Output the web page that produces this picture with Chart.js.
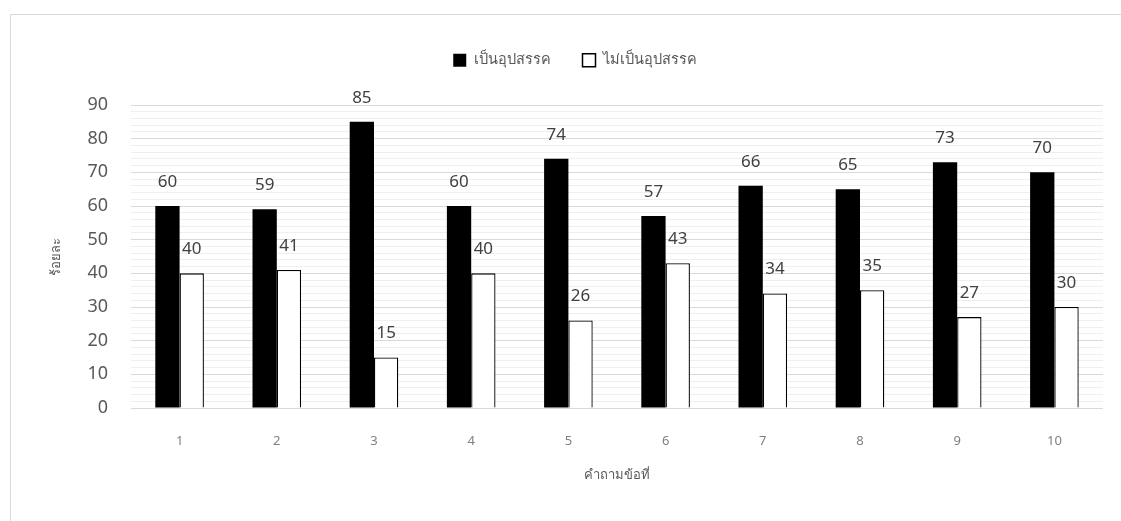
<!DOCTYPE html>
<html lang="th">
<head>
<meta charset="utf-8">
<title>ร้อยละของคำถามแต่ละข้อ</title>
<script src="https://cdn.jsdelivr.net/npm/chart.js@4/dist/chart.umd.min.js"></script>
<style>
  html, body { margin: 0; padding: 0; background: #ffffff; }
  #wrap { position: relative; width: 1121px; height: 521px; overflow: hidden; }
  #frame { position: absolute; left: 10px; top: 14px; width: 1200px; height: 600px;
           border-left: 1px solid #d9d9d9; border-top: 1px solid #d9d9d9; box-sizing: border-box; }
  #c { position: absolute; left: 0; top: 0; }
</style>
</head>
<body>
<div id="wrap">
  <div id="frame"></div>
  <canvas id="c" width="1121" height="521"></canvas>
</div>
<script>
// Question numbers along the x axis
const questions = ['1', '2', '3', '4', '5', '6', '7', '8', '9', '10'];
// Percentage answering "is an obstacle"
const obstacle = [60, 59, 85, 60, 74, 57, 66, 65, 73, 70];
// Percentage answering "is not an obstacle"
const notObstacle = [40, 41, 15, 40, 26, 43, 34, 35, 27, 30];
// Series names
const seriesNames = ['เป็นอุปสรรค', 'ไม่เป็นอุปสรรค'];
// Axis titles
const xTitle = 'คำถามข้อที่';
const yTitle = 'ร้อยละ';

const FONT = "'Noto Sans', 'Open Sans', sans-serif";

// Writes each bar's value above it
const valueLabels = {
  id: 'valueLabels',
  afterDatasetsDraw(chart) {
    const ctx = chart.ctx;
    ctx.save();
    ctx.font = '17px ' + FONT;
    ctx.fillStyle = '#404040';
    ctx.textAlign = 'center';
    ctx.textBaseline = 'middle';
    chart.data.datasets.forEach((ds, di) => {
      chart.getDatasetMeta(di).data.forEach((bar, i) => {
        ctx.fillText(String(ds.data[i]), bar.x, bar.y - 24);
      });
    });
    ctx.restore();
  }
};

// Gives the legend band a fixed height so the plot starts where wanted
const legendBand = {
  id: 'legendBand',
  beforeLayout(chart) {
    const lg = chart.legend;
    if (lg && !lg.__banded) {
      const fit = lg.fit;
      lg.fit = function () { fit.call(this); this.height = 84; };
      lg.__banded = true;
    }
  }
};

new Chart(document.getElementById('c'), {
  type: 'bar',
  data: {
    labels: questions,
    datasets: [
      {
        label: seriesNames[0],
        data: obstacle,
        backgroundColor: '#000000',
        borderColor: '#000000',
        borderWidth: 0,
        categoryPercentage: 0.5,
        barPercentage: 1.0
      },
      {
        label: seriesNames[1],
        data: notObstacle,
        backgroundColor: '#ffffff',
        borderColor: '#000000',
        borderWidth: 1.3,
        categoryPercentage: 0.5,
        barPercentage: 1.0
      }
    ]
  },
  options: {
    responsive: false,
    animation: false,
    devicePixelRatio: 1,
    layout: { padding: { left: 47, right: 18, top: 21, bottom: 38 } },
    plugins: {
      tooltip: { enabled: false },
      legend: {
        position: 'top',
        align: 'center',
        labels: {
          boxWidth: 13,
          boxHeight: 13,
          padding: 32,
          color: '#595959',
          font: { family: FONT, size: 14.5 },
          generateLabels(chart) {
            return chart.data.datasets.map((ds, i) => ({
              text: ds.label,
              fillStyle: ds.backgroundColor,
              strokeStyle: '#000000',
              lineWidth: i === 0 ? 0 : 1.5,
              fontColor: '#595959',
              hidden: false,
              datasetIndex: i
            }));
          }
        }
      }
    },
    scales: {
      x: {
        grid: { display: false, drawTicks: false },
        border: { display: false },
        ticks: { color: '#808080', font: { family: FONT, size: 13 }, padding: 25 },
        title: {
          display: true,
          text: xTitle,
          color: '#595959',
          font: { family: FONT, size: 13 },
          padding: { top: 0, bottom: 0 }
        },
        afterFit(scale) { scale.height = 75; }
      },
      y: {
        min: 0,
        max: 90,
        grid: {
          drawTicks: false,
          lineWidth: 1,
          color(ctx) {
            return ctx.tick && ctx.tick.value % 10 === 0 ? '#d9d9d9' : '#efefef';
          }
        },
        border: { display: false },
        ticks: {
          stepSize: 2,
          autoSkip: false,
          padding: 23,
          color: '#595959',
          font: { family: FONT, size: 18 },
          callback(value) { return value % 10 === 0 ? String(value) : ''; }
        },
        title: {
          display: true,
          text: yTitle,
          color: '#595959',
          font: { family: FONT, size: 13 },
          padding: { top: 1, bottom: 0 }
        },
        afterFit(scale) { scale.width = 84; }
      }
    }
  },
  plugins: [legendBand, valueLabels]
});
</script>
</body>
</html>
